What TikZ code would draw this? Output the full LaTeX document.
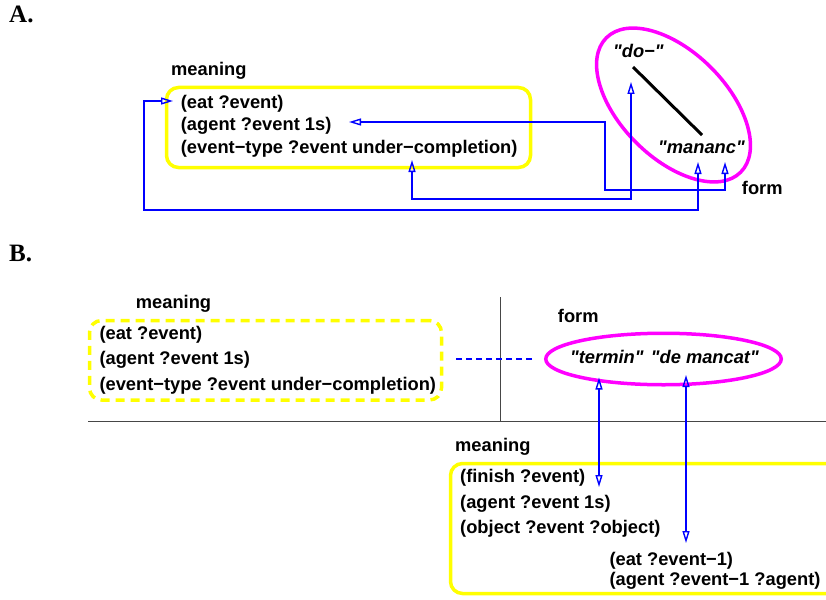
\documentclass[tikz,border=0pt]{standalone}
\usepackage{fontspec}
\setmainfont{Liberation Sans}[Ligatures=TeXOff]
\newfontfamily\labfont{Liberation Serif}
\usetikzlibrary{arrows.meta,shapes.geometric}
\definecolor{yel}{RGB}{255,255,0}
\definecolor{mag}{RGB}{255,0,255}
\definecolor{blu}{RGB}{0,0,255}
\definecolor{divgrey}{RGB}{70,70,70}
\begin{document}
\begin{tikzpicture}[x=1pt,y=-1pt,
  txt/.style={anchor=base west, inner sep=0pt, font=\fontsize{18.3}{22}\selectfont\bfseries},
  itxt/.style={anchor=base west, inner sep=0pt, font=\fontsize{18.3}{22}\selectfont\bfseries\itshape},
  lab/.style={anchor=base west, inner sep=0pt, font=\fontsize{25}{28}\selectfont\labfont\bfseries},
  ybox/.style={draw=yel, line width=3.5pt, rounded corners=12pt, inner sep=0pt},
  formell/.style={draw=mag, line width=3.5pt, ellipse, inner sep=0pt},
  link/.style={draw=blu, line width=1.4pt, {Triangle[open,length=12pt,width=7pt]}-{Triangle[open,length=12pt,width=7pt]}},
  divider/.style={draw=divgrey, line width=1pt}
]
\useasboundingbox (0,0) rectangle (826,599);
\clip (0,0) rectangle (826,599);

% ---------- labels
\node[lab] (labA) at (9,22.3) {A.};
\node[lab] (labB) at (9,261.7) {B.};

% ---------- part A
\node[ybox, minimum width=364pt, minimum height=80pt] (boxA) at (348.5,127.5) {};
\node[txt] (meanA) at (171,75.7) {meaning};
\node[txt] (a1) at (180.7,108) {(eat ?event)};
\node[txt] (a2) at (180.7,130.5) {(agent ?event 1s)};
\node[txt] (a3) at (180.7,153) {(event−type ?event under−completion)};

\node[formell, minimum width=190pt, minimum height=106pt, rotate=-45] (ellA) at (673.5,105) {};
\node[itxt] (doA) at (613,58) {"do−"};
\node[itxt] (manA) at (658,153) {"mananc"};
\node[txt] (formA) at (741.7,194) {form};
\coordinate (lnA1) at (633,67);
\coordinate (lnA2) at (702,135);
\draw[line width=3pt] (lnA1) -- (lnA2);

\coordinate (aEat) at (173,101);
\coordinate (aAgent) at (349,122);
\coordinate (aComp) at (412,160);
\coordinate (fDo) at (631,82);
\coordinate (fMan1) at (698,162);
\coordinate (fMan2) at (725,162);

\draw[link] (aEat) -- ++(-29,0) -- ++(0,109) -| (fMan1);
\draw[link] (aComp) -- ++(0,39) -| (fDo);
\draw[link] (aAgent) -- ++(256,0) -- ++(0,68) -| (fMan2);

% ---------- part B
\draw[divider] (500.7,297) -- (500.7,421);
\draw[divider] (88,421) -- (826,421);

\node[ybox, dash pattern=on 9pt off 6pt, minimum width=352pt, minimum height=79.5pt] (boxB) at (265.5,360.25) {};
\node[txt] (meanB) at (135.7,308) {meaning};
\node[txt] (b1) at (99.3,339) {(eat ?event)};
\node[txt] (b2) at (99.3,364) {(agent ?event 1s)};
\node[txt] (b3) at (99.3,390) {(event−type ?event under−completion)};

\node[formell, minimum width=235.5pt, minimum height=51.5pt] (ellB) at (663.5,359) {};
\node[txt] (formB) at (557.7,322) {form};
\node[itxt] (term) at (570,363) {"termin"};
\node[itxt] (demanc) at (650.7,363) {"de mancat"};

\draw[draw=blu, line width=1.3pt, dash pattern=on 6pt off 4pt] ([xshift=-12pt]ellB.west) -- ([xshift=11pt]boxB.east |- ellB.west);

\node[ybox, minimum width=410pt, minimum height=130pt] (boxC) at (655.5,528.5) {};
\node[txt] (meanC) at (455,451.7) {meaning};
\node[txt] (c1) at (460,482.7) {(finish ?event)};
\node[txt] (c2) at (460,508) {(agent ?event 1s)};
\node[txt] (c3) at (460,533) {(object ?event ?object)};
\node[txt] (c4) at (609.3,565) {(eat ?event−1)};
\node[txt] (c5) at (609.3,585.7) {(agent ?event−1 ?agent)};

\coordinate (bTerm) at (599,377.5);
\coordinate (mFin) at (599,487);
\coordinate (bDe) at (686,375);
\coordinate (mEat) at (686,543);
\draw[link] (bTerm) -- (mFin);
\draw[link] (bDe) -- (mEat);
\end{tikzpicture}
\end{document}
